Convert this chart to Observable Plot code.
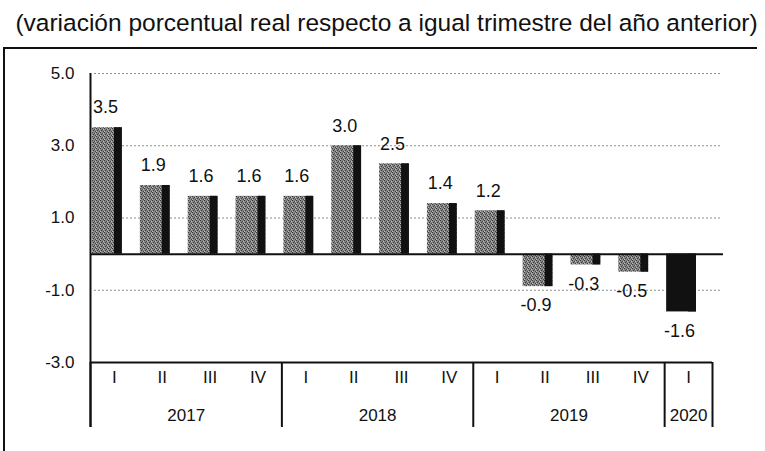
<!DOCTYPE html>
<html>
<head>
<meta charset="utf-8">
<script src="https://cdn.jsdelivr.net/npm/d3@7"></script>
<script src="https://cdn.jsdelivr.net/npm/@observablehq/plot@0.6"></script>
<style>
  html, body { margin: 0; padding: 0; background: #fff; }
  body { width: 765px; height: 451px; position: relative; overflow: hidden; font-family: "Liberation Sans", Arial, sans-serif; }
  #title { position: absolute; left: 0; top: 9px; width: 773px; text-align: center; font-size: 24.5px; color: #111; white-space: nowrap; }
  #frame { position: absolute; left: 3px; top: 47px; width: 752px; height: 420px; border-top: 2px solid #111; border-left: 2px solid #111; }
  #chart { position: absolute; left: 0; top: 0; }
</style>
</head>
<body>
<div id="title">(variación porcentual real respecto a igual trimestre del año anterior)</div>
<div id="frame"></div>
<div id="chart"></div>
<script>
const years    = ["2017","2017","2017","2017","2018","2018","2018","2018","2019","2019","2019","2019","2020"];
const quarters = ["I","II","III","IV","I","II","III","IV","I","II","III","IV","I"];
const values   = [3.5, 1.9, 1.6, 1.6, 1.6, 3.0, 2.5, 1.4, 1.2, -0.9, -0.3, -0.5, -1.6];
const yTicks   = [5, 3, 1, -1, -3];
const gridTicks = [5, 3, 1, -1];
const latestYear = "2020";

const data = values.map((v, i) => ({i, year: years[i], q: quarters[i], v}));
const yearGroups = Array.from(d3.group(data, d => d.year), ([year, rows]) => ({
  year, start: d3.min(rows, d => d.i), end: d3.max(rows, d => d.i) + 1
}));
const boundaries = [...yearGroups.map(g => g.start), yearGroups[yearGroups.length - 1].end];
const fmt = d => d.toFixed(1);
const font = "Liberation Sans, Arial, sans-serif";

const chart = Plot.plot({
  width: 765, height: 451,
  marginLeft: 90, marginRight: 53, marginTop: 73, marginBottom: 89,
  style: {fontFamily: font, color: "#111", background: "transparent"},
  x: {type: "linear", domain: [0, data.length], axis: null},
  y: {domain: [-3, 5], axis: null},
  marks: [
    Plot.ruleY(gridTicks, {stroke: "#8f8f8f", strokeDasharray: "2,2", strokeWidth: 1, insetLeft: 4, insetRight: -10}),
    Plot.rectY(data, {x1: d => d.i, x2: d => d.i + 1, y: "v", fill: d => d.year === latestYear ? "#111" : "url(#dither)", insetLeft: 2, insetRight: 16}),
    Plot.rectY(data, {x1: d => d.i, x2: d => d.i + 1, y: "v", fill: "#111", insetLeft: 24, insetRight: 16}),
    Plot.ruleY([0], {stroke: "#111", strokeWidth: 2, insetRight: -11}),
    Plot.ruleY([-3], {stroke: "#111", strokeWidth: 2}),
    Plot.ruleX([0], {y1: 5, y2: -3, insetBottom: -65, stroke: "#111", strokeWidth: 2}),
    Plot.ruleX(boundaries, {y1: -3, y2: -3, insetBottom: -65, stroke: "#111", strokeWidth: 2}),
    Plot.text(yTicks, {y: d => d, text: fmt, frameAnchor: "left", textAnchor: "end", dx: -16, fontSize: 17, fill: "#111"}),
    Plot.text(data.filter(d => d.v >= 0), {x: d => d.i + 0.5, y: "v", text: d => fmt(d.v), dx: -9, dy: -20, fontSize: 18, fill: "#111"}),
    Plot.text(data.filter(d => d.v < 0), {x: d => d.i + 0.5, y: "v", text: d => fmt(d.v), dx: -9, dy: 19, fontSize: 18, fill: "#111"}),
    Plot.text(data, {x: d => d.i + 0.5, text: "q", frameAnchor: "bottom", dy: 20, fontSize: 17, fill: "#111"}),
    Plot.text(yearGroups, {x: d => (d.start + d.end) / 2, text: "year", frameAnchor: "bottom", dy: 58, fontSize: 17, fill: "#111"})
  ]
});

// dithered grey texture like the scanned bars
const svg = d3.select(chart);
const defs = svg.insert("defs", ":first-child");
const pat = defs.append("pattern").attr("id", "dither").attr("patternUnits", "userSpaceOnUse")
  .attr("width", 4).attr("height", 4);
pat.append("rect").attr("width", 4).attr("height", 4).attr("fill", "#858585");
pat.append("rect").attr("x", 0).attr("y", 0).attr("width", 1).attr("height", 1).attr("fill", "#3a3a3a");
pat.append("rect").attr("x", 2).attr("y", 1).attr("width", 1).attr("height", 1).attr("fill", "#444");
pat.append("rect").attr("x", 1).attr("y", 2).attr("width", 1).attr("height", 1).attr("fill", "#3a3a3a");
pat.append("rect").attr("x", 3).attr("y", 3).attr("width", 1).attr("height", 1).attr("fill", "#444");
pat.append("rect").attr("x", 3).attr("y", 1).attr("width", 1).attr("height", 1).attr("fill", "#bdbdbd");
pat.append("rect").attr("x", 0).attr("y", 3).attr("width", 1).attr("height", 1).attr("fill", "#bdbdbd");
document.getElementById("chart").appendChild(chart);
</script>
</body>
</html>
